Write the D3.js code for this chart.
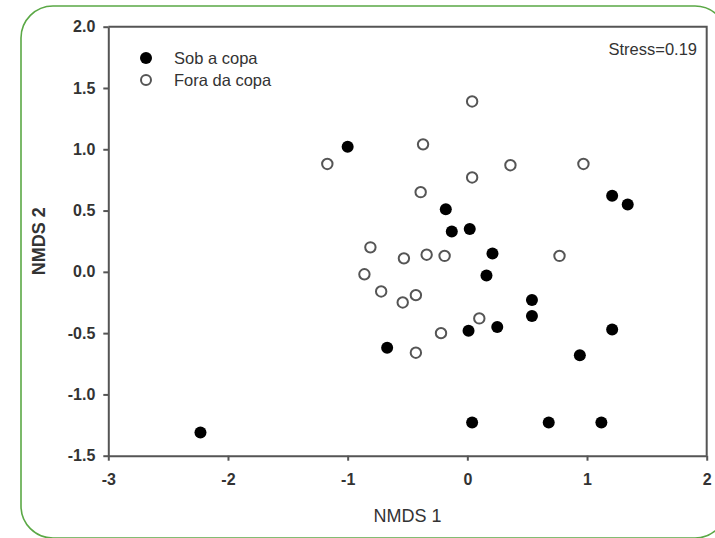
<!DOCTYPE html>
<html>
<head>
<meta charset="utf-8">
<script src="https://cdn.jsdelivr.net/npm/d3@7/dist/d3.min.js"></script>
<style>
  html, body { margin: 0; padding: 0; background: #fff; }
  svg { display: block; }
  text { font-family: "Liberation Sans", Arial, sans-serif; fill: #333; }
</style>
</head>
<body>
<svg id="chart" width="715" height="538"></svg>
<script>
// NMDS ordination scores per sampling position
const groups = ["Sob a copa", "Fora da copa"];

const sobX = [-1.00, -0.18, 1.21, 1.34, -0.13, 0.02, 0.21, 0.16, 0.01, 0.25,
              -0.67, 0.54, 0.54, 1.21, 0.94, 0.04, 0.68, 1.12, -2.23];
const sobY = [1.02, 0.51, 0.62, 0.55, 0.33, 0.35, 0.15, -0.03, -0.48, -0.45,
              -0.62, -0.23, -0.36, -0.47, -0.68, -1.23, -1.23, -1.23, -1.31];

const foraX = [-1.17, -0.37, -0.39, 0.04, 0.04, 0.36, 0.97, -0.81, -0.53, -0.34,
               -0.19, -0.86, -0.72, -0.54, -0.43, 0.10, -0.22, -0.43, 0.77];
const foraY = [0.88, 1.04, 0.65, 1.39, 0.77, 0.87, 0.88, 0.20, 0.11, 0.14,
               0.13, -0.02, -0.16, -0.25, -0.19, -0.38, -0.50, -0.66, 0.13];

const xTicks = [-3, -2, -1, 0, 1, 2];
const yTicks = [-1.5, -1.0, -0.5, 0.0, 0.5, 1.0, 1.5, 2.0];
const stressLabel = "Stress=0.19";

(function () {
  const svg = d3.select("#chart");

  // rounded green frame around the figure
  svg.append("rect")
    .attr("x", 21).attr("y", 6)
    .attr("width", 706).attr("height", 532)
    .attr("rx", 32).attr("ry", 32)
    .attr("fill", "none")
    .attr("stroke", "#5aa845")
    .attr("stroke-width", 1.6);

  const plotL = 108.3, plotR = 706.7, plotT = 26.7, plotB = 455.7;

  const x = d3.scaleLinear().domain([-3, 2]).range([plotL, plotR]);
  const y = d3.scaleLinear().domain([-1.5, 2]).range([plotB, plotT]);

  const axisColor = "#555";

  // plot box (top and right edges)
  svg.append("path")
    .attr("d", `M${plotL},${plotT}H${plotR}V${plotB}`)
    .attr("fill", "none")
    .attr("stroke", axisColor)
    .attr("stroke-width", 2);

  // x axis
  const gx = svg.append("g")
    .attr("transform", `translate(0,${plotB})`)
    .call(d3.axisBottom(x).tickValues(xTicks).tickFormat(d => String(d))
          .tickSize(5).tickPadding(13).tickSizeOuter(0));

  // y axis
  const gy = svg.append("g")
    .attr("transform", `translate(${plotL},0)`)
    .call(d3.axisLeft(y).tickValues(yTicks).tickFormat(d => d.toFixed(1))
          .tickSize(5).tickPadding(8).tickSizeOuter(0));

  [gx, gy].forEach(g => {
    g.select(".domain").attr("stroke", axisColor).attr("stroke-width", 2);
    g.selectAll(".tick line").attr("stroke", axisColor).attr("stroke-width", 2);
    g.selectAll(".tick text")
      .attr("fill", "#3a3a3a")
      .style("font-family", '"Liberation Sans", Arial, sans-serif')
      .style("font-size", "16px")
      .style("font-weight", "bold");
  });

  // axis titles
  svg.append("text")
    .attr("x", (plotL + plotR) / 2).attr("y", 522)
    .attr("text-anchor", "middle")
    .style("font-size", "18px")
    .text("NMDS 1");

  svg.append("text")
    .attr("transform", `translate(45,${(plotT + plotB) / 2}) rotate(-90)`)
    .attr("text-anchor", "middle")
    .style("font-size", "18px")
    .style("font-weight", "bold")
    .text("NMDS 2");

  // stress annotation
  svg.append("text")
    .attr("x", 697).attr("y", 55)
    .attr("text-anchor", "end")
    .style("font-size", "16.5px")
    .text(stressLabel);

  const sob = sobX.map((v, i) => ({ x: v, y: sobY[i] }));
  const fora = foraX.map((v, i) => ({ x: v, y: foraY[i] }));

  // open markers
  svg.append("g").selectAll("circle").data(fora).join("circle")
    .attr("cx", d => x(d.x)).attr("cy", d => y(d.y))
    .attr("r", 5.2)
    .attr("fill", "#fff")
    .attr("stroke", "#555")
    .attr("stroke-width", 2);

  // filled markers
  svg.append("g").selectAll("circle").data(sob).join("circle")
    .attr("cx", d => x(d.x)).attr("cy", d => y(d.y))
    .attr("r", 6)
    .attr("fill", "#000");

  // legend
  const legend = svg.append("g");
  legend.append("circle").attr("cx", 146).attr("cy", 58).attr("r", 6).attr("fill", "#000");
  legend.append("circle").attr("cx", 146).attr("cy", 80).attr("r", 5)
    .attr("fill", "#fff").attr("stroke", "#555").attr("stroke-width", 2);
  legend.selectAll("text").data(groups).join("text")
    .attr("x", 174).attr("y", (d, i) => 58 + i * 22)
    .attr("dy", "0.35em")
    .style("font-size", "16.5px")
    .text(d => d);
})();
</script>
</body>
</html>
